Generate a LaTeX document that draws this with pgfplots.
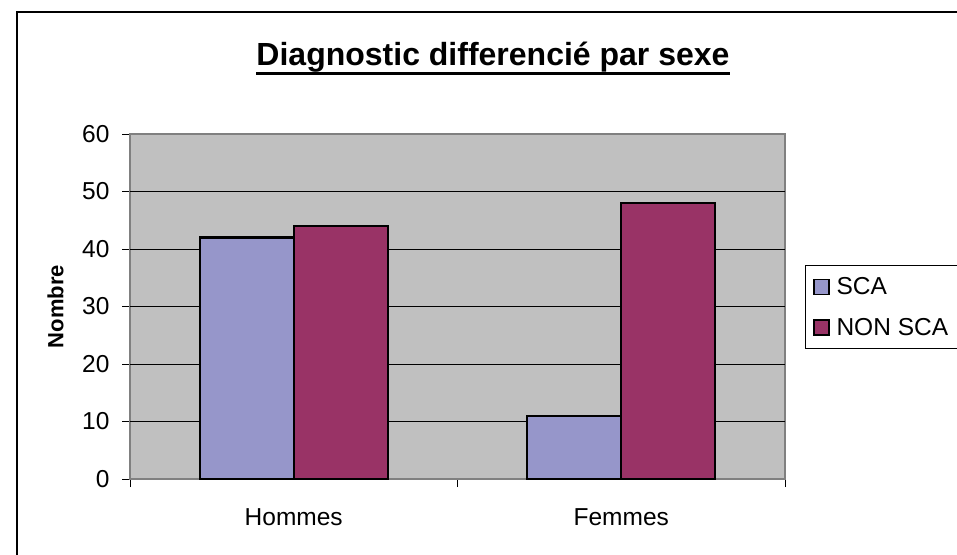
\documentclass[border=0pt]{standalone}
\usepackage{fontspec}
\setmainfont{Liberation Sans}
\usepackage{pgfplots}
\pgfplotsset{compat=1.18}
\definecolor{bg}{RGB}{192,192,192}
\definecolor{sca}{RGB}{150,150,202}
\definecolor{nonsca}{RGB}{153,51,102}
\definecolor{axgray}{RGB}{128,128,128}
\newcommand{\thickul}[1]{\setbox0\hbox{#1}\leavevmode\rlap{\copy0}\rule[-9.8pt]{\wd0}{3.3pt}}
\begin{document}
\begin{tikzpicture}[x=1pt,y=1pt]
\useasboundingbox (0,0) rectangle (957,554);
\draw[line width=1.2pt] (17,-5) -- (17,542) -- (975,542);
\node[font=\fontsize{32}{38}\selectfont\bfseries, anchor=base, inner sep=0pt] at (493,488.5) {\thickul{Diagnostic differencié par sexe}};
\begin{axis}[
  at={(130pt,75pt)}, anchor=south west,
  scale only axis, width=655pt, height=345pt,
  xmin=-0.5, xmax=1.5, ymin=0, ymax=60,
  ybar, bar width=0.287,
  axis background/.style={fill=bg},
  axis line style={draw=axgray, line width=1.2pt},
  ytick={0,10,...,60},
  xtick={-0.5,0.5,1.5}, xticklabels={},
  extra x ticks={0,1}, extra x tick labels={Hommes,Femmes},
  extra x tick style={major tick length=0pt, xticklabel style={yshift=-26pt}},
  extra y ticks={10,20,30,40,50}, extra y tick labels={},
  extra y tick style={grid=major, major tick length=0pt},
  grid style={black, line width=0.9pt},
  tick align=outside, major tick length=8pt,
  tick style={black, line width=0.8pt},
  xtick pos=bottom, ytick pos=left,
  /pgf/number format/assume math mode=true,
  tick label style={font=\fontsize{24.5}{28}\selectfont},
  yticklabel style={xshift=-9pt},
  ylabel={\bfseries Nombre},
  ylabel style={font=\fontsize{22}{26}\selectfont, at={(axis description cs:-0.1138,0.5)}, anchor=center},
  legend style={at={(axis description cs:1.0301,0.6203)}, anchor=north west, draw=black, line width=0.8pt, fill=white,
    font=\fontsize{24.5}{28}\selectfont, inner xsep=8pt, inner ysep=10pt, row sep=18pt, legend cell align=left,
    /tikz/every odd column/.append style={column sep=5pt}},
]
\addplot[bar shift=-0.1435, fill=sca, draw=black, line width=2.2pt, legend image code/.code={\draw[fill=sca, draw=black, line width=1.4pt] (0pt,-7.5pt) rectangle (15pt,7.5pt);}] coordinates {(0,42) (1,11)};
\addplot[bar shift=0.1435, fill=nonsca, draw=black, line width=2.2pt, legend image code/.code={\draw[fill=nonsca, draw=black, line width=1.4pt] (0pt,-7.5pt) rectangle (15pt,7.5pt);}] coordinates {(0,44) (1,48)};
\legend{SCA, NON SCA}
\end{axis}
\end{tikzpicture}
\end{document}
